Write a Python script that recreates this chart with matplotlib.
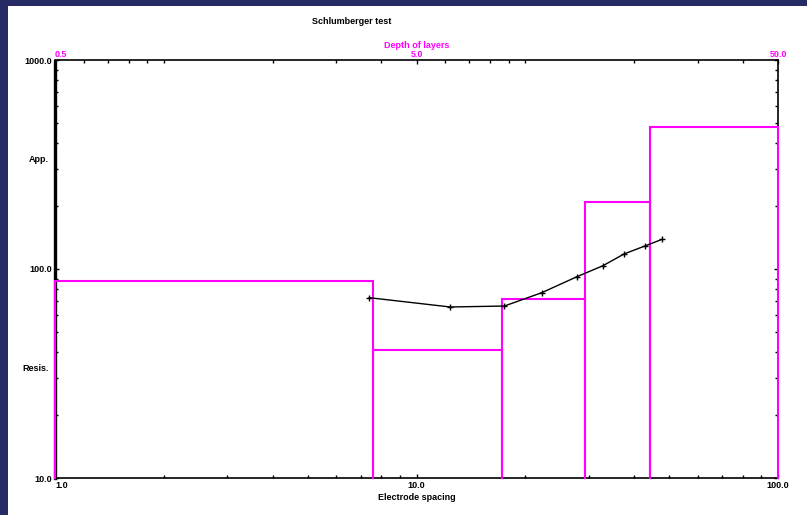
import matplotlib.pyplot as plt
import matplotlib.ticker as mticker
from matplotlib.patches import Rectangle

# observed sounding (electrode spacing AB/2, apparent resistivity)
spacing = [7.4, 12.4, 17.5, 22.2, 27.8, 32.8, 37.5, 42.9, 47.8]
app_res = [72.9, 65.8, 66.5, 77.0, 91.9, 103.7, 118.0, 129.0, 138.7]

# layered model: depth of layer bottoms and layer resistivities
layer_depth = [3.8, 8.6, 14.6, 22.1]
layer_res = [88.0, 41.0, 72.0, 210.0, 480.0]

x_ticks = [1, 10, 100]
x_labels = ['1.0', '10.0', '100.0']
depth_ticks = [0.5, 5, 50]
depth_labels = ['0.5', '5.0', '50.0']
y_ticks = [10, 100, 1000]
y_labels = ['10.0', '100.0', '1000.0']

W, H = 807, 515
fig = plt.figure(figsize=(W / 100, H / 100), dpi=100)
fig.patch.set_facecolor('#262b66')
# white slide area
fig.patches.append(Rectangle((8 / W, 0), 1 - 8 / W, 1 - 6 / H, transform=fig.transFigure,
                             facecolor='white', edgecolor='none', zorder=-5))

fam = ['Liberation Sans', 'DejaVu Sans']
fs = 6.5
magenta = '#ff00ff'

ax = fig.add_axes([55 / W, 37 / H, 723 / W, 418 / H])
ax.set_facecolor('white')
ax.set_xscale('log')
ax.set_yscale('log')
ax.set_xlim(1, 100)
ax.set_ylim(10, 1000)

# depth axis on top (shares the y axis)
ax2 = ax.twiny()
ax2.set_xscale('log')
ax2.set_xlim(0.5, 50)

ax.set_xticks(x_ticks)
ax.set_xticklabels(x_labels, family=fam, fontsize=fs, fontweight='bold')
ax.get_xticklabels()[0].set_ha('left')
ax.set_yticks(y_ticks)
ax.set_yticklabels(y_labels, family=fam, fontsize=fs, fontweight='bold')
ax.xaxis.set_minor_locator(mticker.LogLocator(base=10, subs=range(2, 10)))
ax.yaxis.set_minor_locator(mticker.LogLocator(base=10, subs=range(2, 10)))
ax.xaxis.set_minor_formatter(mticker.NullFormatter())
ax.yaxis.set_minor_formatter(mticker.NullFormatter())
ax.tick_params(axis='both', which='both', direction='in', top=False, right=True,
               length=3, width=1, pad=2, colors='black')
ax.tick_params(axis='both', which='minor', length=2)
for s in ax.spines.values():
    s.set_linewidth(1.2)
ax.spines['left'].set_linestyle((0, (1, 1)))
ax.spines['left'].set_linewidth(2.4)

ax.set_xlabel('Electrode spacing', family=fam, fontsize=fs, fontweight='bold', labelpad=2)
ax.text(-0.008, 0.761, 'App.', transform=ax.transAxes, ha='right', va='center',
        family=fam, fontsize=fs, fontweight='bold')
ax.text(-0.008, 0.263, 'Resis.', transform=ax.transAxes, ha='right', va='center',
        family=fam, fontsize=fs, fontweight='bold')

ax2.set_xticks(depth_ticks)
ax2.set_xticklabels(depth_labels, family=fam, fontsize=fs, fontweight='bold', color=magenta)
ax2.get_xticklabels()[0].set_ha('left')
ax2.xaxis.set_minor_locator(mticker.LogLocator(base=10, subs=range(1, 10)))
ax2.xaxis.set_minor_formatter(mticker.NullFormatter())
ax2.tick_params(axis='x', which='both', direction='in', length=3, width=1, pad=1)
ax2.tick_params(axis='x', which='minor', length=2)
ax2.set_xlabel('Depth of layers', family=fam, fontsize=fs, fontweight='bold',
               color=magenta, labelpad=1)
for s in ax2.spines.values():
    s.set_visible(False)

# model layers as boxes from the bottom of the plot
edges = [0.5] + layer_depth + [50]
for i, rho in enumerate(layer_res):
    x0, x1 = edges[i], edges[i + 1]
    ax2.plot([x0, x0, x1, x1], [10, rho, rho, 10], color=magenta, lw=1.5,
             solid_joinstyle='miter', clip_on=False, zorder=2)

# observed / calculated curve
ax2.plot([s / 2 for s in spacing], app_res, color='black', lw=1.0, marker='+',
         ms=4, mew=1.0, zorder=3)

fig.text(352 / W, 1 - 21 / H, 'Schlumberger test', ha='center', va='center',
         family=fam, fontsize=fs, fontweight='bold')

fig.savefig('out.png', dpi=100, facecolor=fig.get_facecolor())
